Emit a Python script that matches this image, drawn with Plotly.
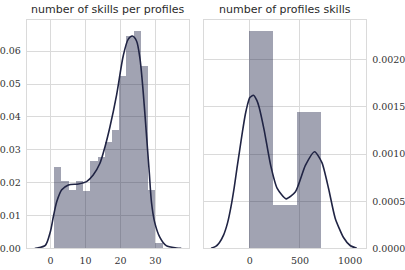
import plotly.graph_objects as go

# ---- data ----
left_title = "number of skills per profiles"
right_title = "number of profiles skills"

left_bin_edges = [1.0, 3.07, 5.13, 7.2, 9.27, 11.33, 13.4, 15.47, 17.53, 19.6,
                  21.67, 23.73, 25.8, 27.87, 29.93, 32.0]
left_density = [0.025, 0.0207, 0.018, 0.0207, 0.0175, 0.0266, 0.0278, 0.0325,
                0.0362, 0.0526, 0.0648, 0.0663, 0.0556, 0.0178, 0.0017]
left_kde_x = [-4.5, -3.9, -1.5, -0.1, 0.85, 1.8, 3.2, 5.1, 8.0, 10.3, 12.2, 14.1,
              15.6, 17.0, 18.9, 20.8, 22.2, 23.4, 24.6, 25.6, 26.5, 27.5, 28.2,
              28.9, 29.8, 31.25, 33.1, 36.0, 37.4]
left_kde_y = [0.0, 0.0001, 0.0009, 0.0049, 0.0099, 0.0143, 0.0178, 0.0193, 0.0196,
              0.0203, 0.0223, 0.0258, 0.031, 0.037, 0.0467, 0.0586, 0.0636, 0.0646,
              0.0631, 0.0576, 0.0477, 0.0337, 0.0238, 0.0138, 0.0079, 0.0034,
              0.0008, 0.0001, 0.0]
left_xticks = [0, 10, 20, 30]
left_yticks = [0.0, 0.01, 0.02, 0.03, 0.04, 0.05, 0.06]

right_bin_edges = [0.0, 236.7, 473.3, 710.0]
right_density = [0.002313, 0.000463, 0.001452]
right_kde_x = [-386, -340, -304, -262, -222, -188, -155, -128, -100, -73, -45, -24,
               0, 36, 70, 92, 142, 208, 273, 362, 455, 554, 646, 719, 785, 851, 934,
               1000, 1066]
right_kde_y = [0.0, 0.00002, 0.00006, 0.00014, 0.00027, 0.00044, 0.00065, 0.00085,
               0.00105, 0.00124, 0.00142, 0.00152, 0.0016, 0.001625, 0.00157, 0.0015,
               0.00126, 0.00088, 0.000635, 0.000525, 0.0006, 0.00088, 0.001025,
               0.00091, 0.000635, 0.00032, 0.000115, 0.00003, 0.0]
right_xticks = [0, 500, 1000]
right_yticks = [0.0, 0.0005, 0.001, 0.0015, 0.002]

# ---- styles ----
BAR = "rgba(20,25,62,0.4)"
LINE = "rgb(32,36,68)"
GRID = "#dadada"
TICKFONT = dict(family="DejaVu Serif", size=9.5, color="#333333")
TITLEFONT = dict(family="DejaVu Sans", size=11, color="#2a2a2a")


def centers(edges):
    return [(a + b) / 2 for a, b in zip(edges[:-1], edges[1:])]


def widths(edges):
    return [b - a for a, b in zip(edges[:-1], edges[1:])]


fig = go.Figure()
fig.add_trace(go.Bar(x=centers(left_bin_edges), y=left_density, width=widths(left_bin_edges),
                     marker=dict(color=BAR, line=dict(width=0)), xaxis="x", yaxis="y"))
fig.add_trace(go.Scatter(x=left_kde_x, y=left_kde_y, mode="lines",
                         line=dict(color=LINE, width=1.6, shape="spline", smoothing=0.8),
                         xaxis="x", yaxis="y"))
fig.add_trace(go.Bar(x=centers(right_bin_edges), y=right_density, width=widths(right_bin_edges),
                     marker=dict(color=BAR, line=dict(width=0)), xaxis="x2", yaxis="y2"))
fig.add_trace(go.Scatter(x=right_kde_x, y=right_kde_y, mode="lines",
                         line=dict(color=LINE, width=1.6, shape="spline", smoothing=0.6),
                         xaxis="x2", yaxis="y2"))

ax_common = dict(showgrid=True, gridcolor=GRID, gridwidth=1, zeroline=False,
                 showline=True, linecolor=GRID, linewidth=1, mirror=True,
                 ticks="", tickfont=TICKFONT)

ydom = [17 / 270, 250 / 270]
fig.update_layout(
    width=405, height=270,
    margin=dict(l=0, r=0, t=0, b=0),
    paper_bgcolor="white", plot_bgcolor="white",
    showlegend=False, bargap=0,
    xaxis=dict(domain=[26 / 405, 189 / 405], range=[-6.8, 39.5], tickvals=left_xticks,
               anchor="y", ticklabelstandoff=3, **ax_common),
    yaxis=dict(domain=ydom, range=[0, 0.0696], tickvals=left_yticks, tickformat=".2f",
               anchor="x", ticklabelstandoff=3, **ax_common),
    xaxis2=dict(domain=[205 / 405, 368 / 405], range=[-452, 1161], tickvals=right_xticks,
                anchor="y2", ticklabelstandoff=3, **ax_common),
    yaxis2=dict(domain=ydom, range=[0, 0.002427], tickvals=right_yticks, tickformat=".4f",
                anchor="x2", side="right", ticklabelstandoff=3, **ax_common),
    annotations=[
        dict(text=left_title, x=(26 + 189) / 2 / 405, y=1 - 18 / 270, xref="paper", yref="paper",
             xanchor="center", yanchor="bottom", showarrow=False, font=TITLEFONT),
        dict(text=right_title, x=(205 + 368) / 2 / 405, y=1 - 18 / 270, xref="paper", yref="paper",
             xanchor="center", yanchor="bottom", showarrow=False, font=TITLEFONT),
    ],
)

fig.write_html("out.html")
